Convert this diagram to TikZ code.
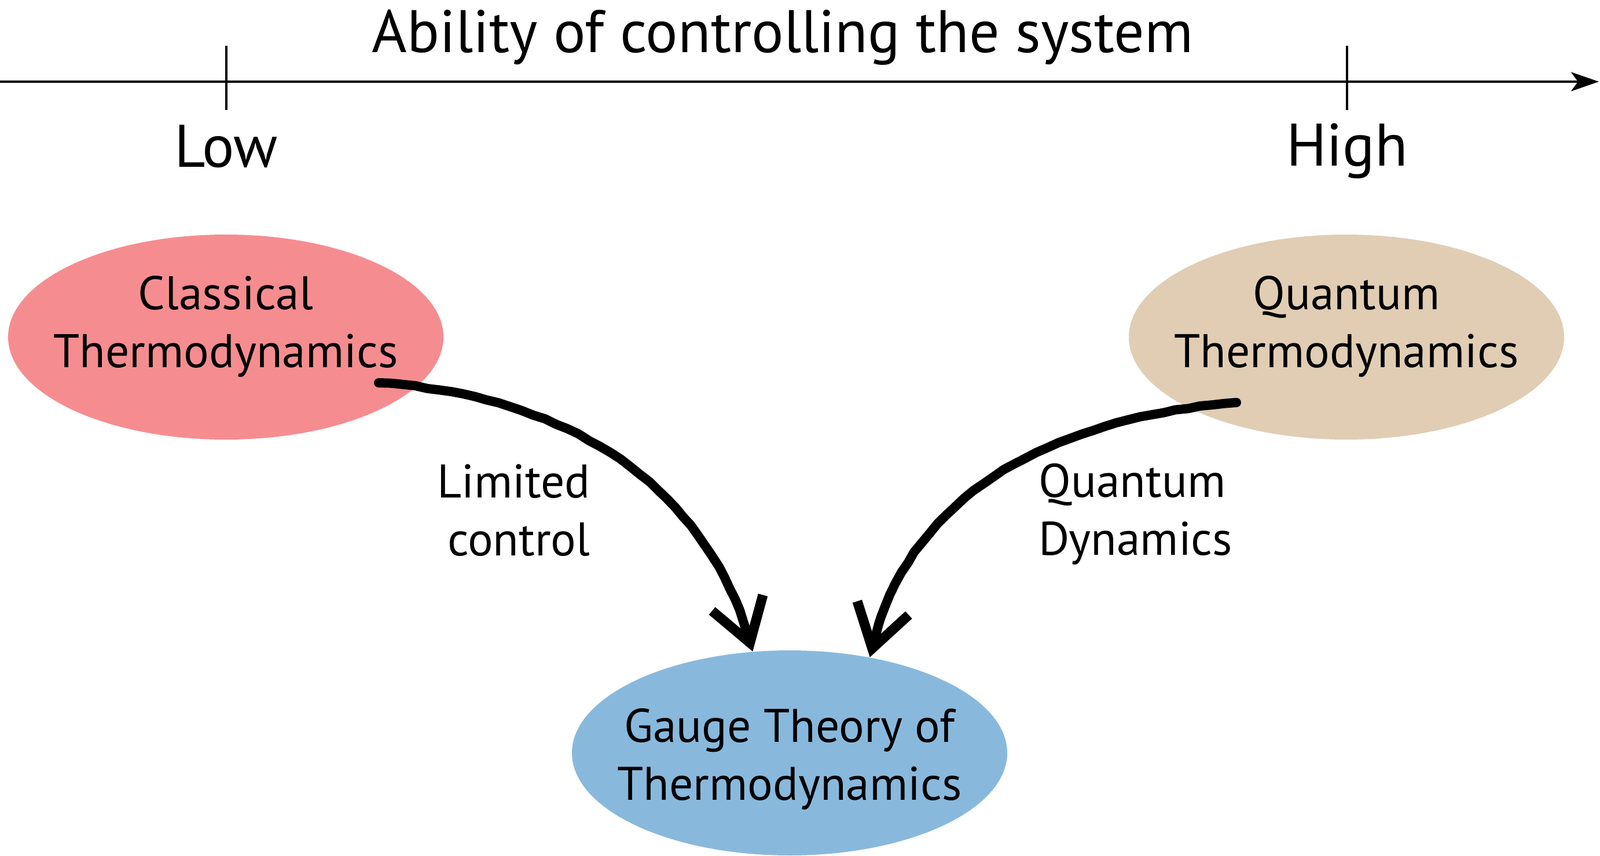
\documentclass[tikz,border=0pt]{standalone}
\usepackage{fontspec}
\setmainfont{PT Sans}
\usepackage{tikz}
\usetikzlibrary{shapes.geometric, arrows.meta, positioning, decorations.pathmorphing}

\definecolor{classicred}{HTML}{F58D90}
\definecolor{quantumtan}{HTML}{E0CDB4}
\definecolor{gaugeblue}{HTML}{88B9DD}

\begin{document}
\begin{tikzpicture}[
    % big text for the axis, smaller text for the bubbles
    axisfont/.style={font=\fontsize{29.5}{35}\selectfont},
    bubblefont/.style={font=\fontsize{23.2}{28.45}\selectfont},
    blob/.style={ellipse, minimum width=7.52cm, minimum height=3.54cm, inner sep=0pt, draw=none},
    bubbletext/.style={bubblefont, align=center, inner sep=0pt},
    axisline/.style={line width=1.15pt, -{Stealth[length=0.48cm, width=0.33cm, inset=0.12cm]}},
    tick/.style={line width=1pt},
    brush/.style={line width=0.16cm, line cap=round, line join=round,
        decorate, decoration={random steps, segment length=6pt, amplitude=0.3pt, post length=0.6cm},
        -{Straight Barb[length=0.72cm, width=0.92cm, line width=0.17cm]}}
]
\useasboundingbox (0,0) rectangle (27.64,-14.78);

%% ── Axis ───────────────────────────────────────────────────
\coordinate (ax-start) at (0,-1.41);
\coordinate (ax-end) at (27.62,-1.41);
\draw [axisline] (ax-start) -- (ax-end);

\coordinate (lowtick) at (3.91,-1.41);
\coordinate (hightick) at (23.27,-1.41);
\draw [tick] ([yshift=0.62cm]lowtick) -- ([yshift=-0.49cm]lowtick);
\draw [tick] ([yshift=0.62cm]hightick) -- ([yshift=-0.49cm]hightick);

\node (title) [axisfont, anchor=base] at (13.52,-0.90) {Ability of controlling the system};
\node (low) [axisfont, anchor=base] at (3.91,-2.88) {Low};
\node (high) [axisfont, anchor=base] at (23.27,-2.86) {High};

%% ── Bubbles ────────────────────────────────────────────────
\node (classical) [blob, fill=classicred] at (3.90,-5.82) {};
\node (quantum) [blob, fill=quantumtan] at (23.26,-5.82) {};
\node (gauge) [blob, fill=gaugeblue] at (13.64,-13.00) {};

\node (classical-txt) [bubbletext] at ([yshift=0.18cm]classical.center) {Classical\\Thermodynamics};
\node (quantum-txt) [bubbletext] at ([yshift=0.18cm]quantum.center) {Quantum\\Thermodynamics};
\node (gauge-txt) [bubbletext] at ([yshift=-0.11cm]gauge.center) {Gauge Theory of\\Thermodynamics};

%% ── Brush arrows ───────────────────────────────────────────
\coordinate (classical-out) at ([shift={(2.64,-0.79)}]classical.center);
\coordinate (quantum-out) at ([shift={(-1.90,-1.13)}]quantum.center);

\draw [brush] (classical-out) to[out=-4, in=105] (gauge.110);
\draw [brush] (quantum-out) to[out=185, in=78] (gauge.50);

\node (limited) [bubblefont, align=right, anchor=east, inner sep=0pt] at (10.20,-8.81) {Limited\\control};
\node (dynamics) [bubblefont, align=left, anchor=west, inner sep=0pt] at (17.94,-8.88) {Quantum\\Dynamics};

\end{tikzpicture}
\end{document}
